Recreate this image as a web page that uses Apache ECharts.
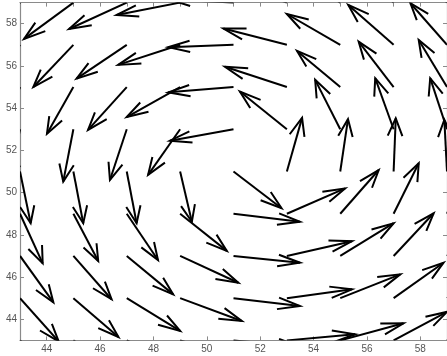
<!DOCTYPE html>
<html>
<head>
<meta charset="utf-8">
<script src="https://cdn.jsdelivr.net/npm/echarts@6/dist/echarts.min.js"></script>
<style>
html,body{margin:0;padding:0;background:#fff;}
#chart{width:447px;height:356px;}
</style>
</head>
<body>
<div id="chart"></div>
<script>
// Grid of arrow tails
const gridX = [43, 45, 47, 49, 51, 53, 55, 57, 59];
const gridY = [59, 57, 55, 53, 51, 49, 47, 45, 43];

// Arrow displacement (data units) per row, columns follow gridX
const u59 = [-1.6, -1.85, -2.16, -2.38, -2.4, -2.2, -1.9, -1.6, -1.3];
const v59 = [-1.9, -1.72, -1.25, -0.59, 0.15, 1.0, 1.55, 1.9, 2.05];
const u57 = [-1.2, -1.5, -1.88, -2.32, -2.44, -2.38, -2.0, -1.7, -1.37];
const v57 = [-2.2, -2.0, -1.6, -0.95, -0.11, 0.77, 1.46, 1.89, 1.97];
const u55 = [-0.7, -0.99, -1.45, -2.0, -2.44, -2.32, -1.62, -1.31, -1.06];
const v55 = [-2.3, -2.21, -2.03, -1.42, -0.25, 0.96, 1.71, 2.15, 2.23];
const u53 = [-0.4, -0.38, -0.63, -1.2, -2.38, -1.76, -0.94, -0.69, -0.63];
const v53 = [-2.5, -2.48, -2.4, -2.16, -0.54, 1.79, 2.34, 2.42, 2.42];
const u51 = [0.4, 0.37, 0.37, 0.44, 1.8, 0.57, 0.29, 0.08, -0.1];
const v51 = [-2.45, -2.45, -2.45, -2.38, -1.74, 2.54, 2.48, 2.52, 2.45];
const u49 = [0.85, 0.93, 1.17, 1.75, 2.49, 2.18, 1.44, 0.94, 0.8];
const v49 = [-2.35, -2.24, -2.19, -1.76, -0.38, 1.2, 2.07, 2.39, 2.4];
const u47 = [1.25, 1.43, 1.74, 2.18, 2.49, 2.44, 2.0, 1.5, 1.4];
const v47 = [-2.2, -2.05, -1.82, -1.27, -0.32, 0.7, 1.55, 2.02, 2.0];
const u45 = [1.45, 1.69, 2.0, 2.31, 2.49, 2.44, 2.25, 1.87, 1.8];
const v45 = [-2.05, -1.84, -1.55, -1.08, -0.37, 0.42, 1.13, 1.68, 1.7];
const u43 = [1.7, 1.9, 2.1, 2.3, 2.5, 2.56, 2.37, 2.0, 1.9];
const v43 = [-1.8, -1.6, -1.3, -0.9, -0.3, 0.29, 0.81, 1.35, 1.5];

const U = [u59, u57, u55, u53, u51, u49, u47, u45, u43];
const V = [v59, v57, v55, v53, v51, v49, v47, v45, v43];

// Tick labels
const xTicks = [44, 46, 48, 50, 52, 54, 56, 58];
const yTicks = [44, 46, 48, 50, 52, 54, 56, 58];
const topTicks = [44, 45, 46, 47, 48, 49, 50, 51, 52, 53, 54, 55, 56, 57, 58];

const data = [];
for (let r = 0; r < gridY.length; r++) {
  for (let c = 0; c < gridX.length; c++) {
    data.push([gridX[c], gridY[r], U[r][c], V[r][c]]);
  }
}

const axisColor = '#8a8a8a';
const labelStyle = { color: '#555', fontFamily: 'Liberation Sans, Arial, sans-serif', fontSize: 10 };

const chart = echarts.init(document.getElementById('chart'), null, { renderer: 'canvas' });
chart.setOption({
  animation: false,
  backgroundColor: '#fff',
  grid: { left: 20, right: 0, top: 2.6, bottom: 15.6, containLabel: false },
  xAxis: [
    {
      type: 'value', position: 'bottom', min: 43, max: 59,
      axisLine: { show: true, onZero: false, lineStyle: { color: axisColor, width: 1.2 } },
      axisTick: { show: true, inside: true, length: 4, customValues: xTicks, lineStyle: { color: axisColor } },
      axisLabel: Object.assign({ show: true, margin: 4, customValues: xTicks }, labelStyle),
      splitLine: { show: false }
    },
    {
      type: 'value', position: 'top', min: 43, max: 59,
      axisLine: { show: true, onZero: false, lineStyle: { color: axisColor, width: 1.2 } },
      axisTick: { show: true, inside: true, length: 4, customValues: topTicks, lineStyle: { color: axisColor } },
      axisLabel: { show: false },
      splitLine: { show: false }
    }
  ],
  yAxis: [
    {
      type: 'value', position: 'left', min: 43, max: 59,
      axisLine: { show: true, onZero: false, lineStyle: { color: axisColor, width: 1.2 } },
      axisTick: { show: true, inside: true, length: 4, customValues: yTicks, lineStyle: { color: axisColor } },
      axisLabel: Object.assign({ show: true, margin: 3, customValues: yTicks }, labelStyle),
      splitLine: { show: false }
    },
    {
      type: 'value', position: 'right', min: 43, max: 59,
      axisLine: { show: true, onZero: false, lineStyle: { color: axisColor, width: 1.2 } },
      axisTick: { show: true, inside: true, length: 4, customValues: yTicks, lineStyle: { color: axisColor } },
      axisLabel: { show: false },
      splitLine: { show: false }
    }
  ],
  series: [{
    type: 'custom',
    coordinateSystem: 'cartesian2d',
    xAxisIndex: 0,
    yAxisIndex: 0,
    clip: true,
    silent: true,
    data: data,
    encode: { x: 0, y: 1 },
    renderItem: function (params, api) {
      const x = api.value(0), y = api.value(1), u = api.value(2), v = api.value(3);
      const a = 0.33, b = 0.33;
      const p0 = api.coord([x, y]);
      const p1 = api.coord([x + u, y + v]);
      const h1 = api.coord([x + u - a * (u + b * v), y + v - a * (v - b * u)]);
      const h2 = api.coord([x + u - a * (u - b * v), y + v - a * (v + b * u)]);
      const st = { stroke: '#000', lineWidth: 2, fill: null, lineJoin: 'miter', lineCap: 'butt' };
      return {
        type: 'group',
        children: [
          { type: 'polyline', shape: { points: [p0, p1] }, style: st },
          { type: 'polyline', shape: { points: [h1, p1, h2] }, style: st }
        ]
      };
    }
  }]
});
</script>
</body>
</html>
